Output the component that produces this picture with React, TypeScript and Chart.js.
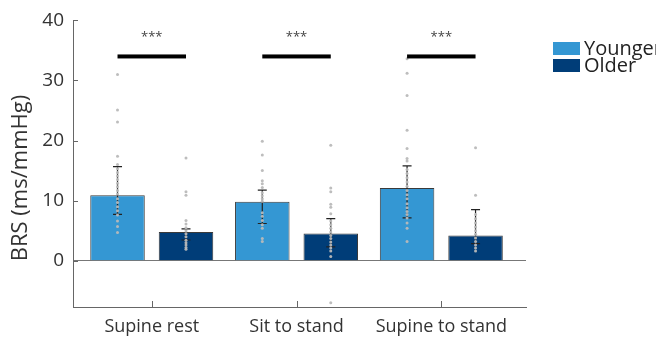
import React, { useEffect, useRef } from "react";
import { Chart, registerables } from "chart.js";

Chart.register(...registerables);

const categories = ["Supine rest", "Sit to stand", "Supine to stand"];
const seriesNames = ["Younger", "Older"];
const youngerMeans = [10.9, 9.8, 12.1];
const olderMeans = [4.8, 4.55, 4.2];
const youngerLow = [7.7, 6.2, 7.15];
const youngerHigh = [15.65, 11.75, 15.8];
const olderLow = [3.45, 2.3, 2.85];
const olderHigh = [5.3, 7.0, 8.5];

const youngerDots1 = [31.0, 25.1, 23.1, 17.4, 16.0, 15.3, 14.7, 14.1, 13.5, 12.9, 12.3, 11.7, 11.1, 10.3, 9.7, 9.0, 8.3, 7.6, 6.6, 5.7, 4.7];
const youngerDots2 = [19.9, 17.6, 15.0, 13.3, 12.8, 12.2, 11.3, 10.8, 10.3, 9.9, 8.0, 7.4, 6.7, 6.0, 5.4, 3.7, 3.2];
const youngerDots3 = [33.6, 31.2, 27.5, 21.7, 18.7, 17.0, 16.6, 15.2, 14.5, 13.8, 13.1, 12.4, 11.7, 11.0, 10.3, 9.5, 8.8, 8.2, 7.7, 7.1, 6.3, 5.4, 3.2];
const olderDots1 = [17.1, 11.5, 10.9, 6.7, 6.1, 5.5, 5.0, 4.5, 4.0, 3.4, 3.0, 2.6, 2.2, 1.9];
const olderDots2 = [19.2, 12.1, 11.5, 9.4, 8.9, 7.8, 6.6, 6.0, 5.4, 4.8, 4.2, 3.7, 3.1, 2.6, 2.1, 1.6, 0.7, -7.0];
const olderDots3 = [18.8, 10.9, 7.7, 7.0, 6.3, 5.6, 5.0, 4.4, 3.8, 3.2, 2.6, 2.1, 1.6];

const sigLevels = [34, 34, 34];
const sigLabels = ["***", "***", "***"];
const yTicks = [0, 10, 20, 30, 40];
const yMin = -7.7;
const yMax = 40;
const xMin = -0.544;
const xMax = 2.585;
const yTitle = "BRS (ms/mmHg)";

const FONT = "'Open Sans', sans-serif";
const colors = ["#3497d3", "#003d78"];

const overlayPlugin = {
  id: "overlay",
  afterDatasetsDraw(chart: any) {
    const ctx = chart.ctx;
    const ys = chart.scales.y;
    const lows = [youngerLow, olderLow];
    const highs = [youngerHigh, olderHigh];
    const dots = [
      [youngerDots1, youngerDots2, youngerDots3],
      [olderDots1, olderDots2, olderDots3],
    ];
    ctx.save();
    for (let d = 0; d < 2; d++) {
      const meta = chart.getDatasetMeta(d);
      meta.data.forEach((bar: any, j: number) => {
        const x = bar.x;
        const yl = ys.getPixelForValue(lows[d][j]);
        const yh = ys.getPixelForValue(highs[d][j]);
        ctx.strokeStyle = "#222";
        ctx.lineWidth = 1.2;
        ctx.beginPath();
        ctx.moveTo(x, yl);
        ctx.lineTo(x, yh);
        ctx.moveTo(x - 4.5, yl);
        ctx.lineTo(x + 4.5, yl);
        ctx.moveTo(x - 4.5, yh);
        ctx.lineTo(x + 4.5, yh);
        ctx.stroke();
        ctx.fillStyle = "rgba(185,185,185,0.95)";
        dots[d][j].forEach((v: number) => {
          ctx.beginPath();
          ctx.arc(x, ys.getPixelForValue(v), 1.5, 0, Math.PI * 2);
          ctx.fill();
        });
      });
    }
    // significance bars
    const m0 = chart.getDatasetMeta(0);
    const m1 = chart.getDatasetMeta(1);
    for (let j = 0; j < categories.length; j++) {
      const x0 = m0.data[j].x;
      const x1 = m1.data[j].x;
      const py = ys.getPixelForValue(sigLevels[j]);
      ctx.fillStyle = "#000";
      ctx.fillRect(x0, py - 2, x1 - x0, 4);
      ctx.fillStyle = "#444";
      ctx.font = `13px ${FONT}`;
      ctx.textAlign = "center";
      ctx.textBaseline = "middle";
      ctx.fillText(sigLabels[j], (x0 + x1) / 2, py - 19);
    }
    ctx.restore();
  },
  afterDraw(chart: any) {
    const ctx = chart.ctx;
    const area = chart.chartArea;
    const ys = chart.scales.y;
    const xs = chart.scales.x;
    ctx.save();
    // inward tick marks
    ctx.strokeStyle = "#666";
    ctx.lineWidth = 1;
    ctx.beginPath();
    yTicks.forEach((v) => {
      const py = Math.round(ys.getPixelForValue(v)) + 0.5;
      ctx.moveTo(area.left, py);
      ctx.lineTo(area.left + 5, py);
    });
    categories.forEach((_c, i) => {
      const px = Math.round(xs.getPixelForValue(i)) + 0.5;
      ctx.moveTo(px, area.bottom);
      ctx.lineTo(px, area.bottom - 6);
    });
    ctx.stroke();
    // y title
    ctx.fillStyle = "#333";
    ctx.font = `22px ${FONT}`;
    ctx.textAlign = "center";
    ctx.textBaseline = "middle";
    ctx.translate(21, area.top + (area.bottom - area.top) * 0.55);
    ctx.rotate(-Math.PI / 2);
    ctx.fillText(yTitle, 0, 0);
    ctx.restore();
    // legend
    ctx.save();
    const lx = area.right + 27;
    seriesNames.forEach((name, i) => {
      const top = 42 + i * 17;
      ctx.fillStyle = colors[i];
      ctx.fillRect(lx, top, 27, 13);
      ctx.fillStyle = "#222";
      ctx.font = `20px ${FONT}`;
      ctx.textAlign = "left";
      ctx.textBaseline = "middle";
      ctx.fillText(name, lx + 31, top + 7);
    });
    ctx.restore();
  },
};

export default function App() {
  const ref = useRef<HTMLCanvasElement>(null);
  useEffect(() => {
    const toPoints = (vals: number[]) => vals.map((v, i) => ({ x: i, y: v }));
    const chart = new Chart(ref.current as HTMLCanvasElement, {
      type: "bar",
      data: {
        datasets: [
          {
            label: seriesNames[0],
            data: toPoints(youngerMeans),
            backgroundColor: colors[0],
            borderColor: "#3a3a3a",
            borderWidth: 1,
            categoryPercentage: 0.946,
            barPercentage: 0.796,
          },
          {
            label: seriesNames[1],
            data: toPoints(olderMeans),
            backgroundColor: colors[1],
            borderColor: "#3a3a3a",
            borderWidth: 1,
            categoryPercentage: 0.946,
            barPercentage: 0.796,
          },
        ],
      },
      options: {
        animation: false,
        responsive: true,
        maintainAspectRatio: false,
        layout: { padding: { left: 0, top: 17, right: 130, bottom: 0 } },
        plugins: { legend: { display: false }, tooltip: { enabled: false } },
        scales: {
          x: {
            type: "linear",
            min: xMin,
            max: xMax,
            offset: false,
            afterBuildTicks: (s: any) => {
              s.ticks = categories.map((_c, i) => ({ value: i }));
            },
            grid: { display: false, drawTicks: false },
            border: { display: true, color: "#666", width: 1 },
            ticks: {
              color: "#333",
              font: { family: FONT, size: 18 },
              padding: 9,
              autoSkip: false,
              maxRotation: 0,
              callback: (v: any) => categories[Math.round(Number(v))] ?? "",
            },
            afterFit: (s: any) => {
              s.height = 34;
            },
          },
          y: {
            min: yMin,
            max: yMax,
            afterBuildTicks: (s: any) => {
              s.ticks = yTicks.map((v) => ({ value: v }));
            },
            grid: {
              drawTicks: false,
              color: (c: any) => (c.tick && c.tick.value === 0 ? "#777" : "rgba(0,0,0,0)"),
            },
            border: { display: true, color: "#666", width: 1 },
            ticks: { color: "#333", font: { family: FONT, size: 19 }, padding: 9 },
            afterFit: (s: any) => {
              s.width = 73;
            },
          },
        },
      },
      plugins: [overlayPlugin],
    } as any);
    return () => chart.destroy();
  }, []);
  return (
    <div style={{ position: "fixed", left: 0, top: 0, width: 656, height: 341, background: "#fff" }}>
      <canvas ref={ref} />
    </div>
  );
}
